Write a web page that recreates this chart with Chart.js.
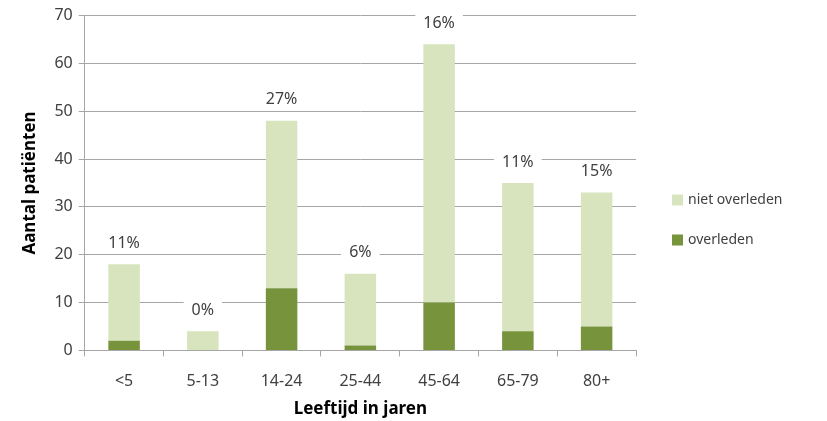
<!DOCTYPE html>
<html>
<head>
    <title>Aantal patiënten per leeftijd</title>
    <script src="https://cdn.jsdelivr.net/npm/chart.js"></script>
    <style>
        html, body { margin: 0; padding: 0; background: #fff; }
        .chart-box { width: 827px; height: 421px; }
    </style>
</head>
<body>
    <div class="chart-box">
        <canvas id="leeftijd-chart"></canvas>
    </div>

    <script>
        const categories = ['<5', '5-13', '14-24', '25-44', '45-64', '65-79', '80+'];
        const overleden = [2, 0, 13, 1, 10, 4, 5];
        const nietOverleden = [16, 4, 35, 15, 54, 31, 28];
        const yTicks = [0, 10, 20, 30, 40, 50, 60, 70];

        const FONT = '"Noto Sans", "DejaVu Sans", sans-serif';

        // percentage overleden boven elke staaf, met witte achtergrond
        const percentLabels = {
            id: 'percentLabels',
            afterDatasetsDraw(chart) {
                const ctx = chart.ctx;
                const meta = chart.getDatasetMeta(1);
                ctx.save();
                ctx.font = '16px ' + FONT;
                ctx.textAlign = 'center';
                ctx.textBaseline = 'middle';
                meta.data.forEach((bar, i) => {
                    const total = overleden[i] + nietOverleden[i];
                    const text = Math.round(overleden[i] / total * 100) + '%';
                    const y = bar.y - 21;
                    const w = ctx.measureText(text).width + 16;
                    ctx.fillStyle = '#fff';
                    ctx.fillRect(bar.x - w / 2, y - 10, w, 20);
                    ctx.fillStyle = '#404040';
                    ctx.fillText(text, bar.x, y);
                });
                ctx.restore();
            }
        };

        // legenda rechts, niet overleden bovenaan
        const sideLegend = {
            id: 'sideLegend',
            afterDraw(chart) {
                const ctx = chart.ctx;
                const x = chart.chartArea.right + 36;
                const sets = chart.data.datasets.slice().reverse();
                ctx.save();
                ctx.font = '14px ' + FONT;
                ctx.textAlign = 'left';
                ctx.textBaseline = 'middle';
                sets.forEach((ds, i) => {
                    const y = 200 + i * 40;
                    ctx.fillStyle = ds.backgroundColor;
                    ctx.fillRect(x, y - 5.5, 11, 11);
                    ctx.fillStyle = '#404040';
                    ctx.fillText(ds.label, x + 16, y);
                });
                ctx.restore();
            }
        };

        const ctx = document.getElementById('leeftijd-chart').getContext('2d');
        new Chart(ctx, {
            type: 'bar',
            data: {
                labels: categories,
                datasets: [
                    {
                        label: 'overleden',
                        data: overleden,
                        backgroundColor: '#77933c',
                        barPercentage: 0.4,
                        categoryPercentage: 1
                    },
                    {
                        label: 'niet overleden',
                        data: nietOverleden,
                        backgroundColor: '#d7e4bd',
                        barPercentage: 0.4,
                        categoryPercentage: 1
                    }
                ]
            },
            options: {
                responsive: true,
                maintainAspectRatio: false,
                animation: false,
                layout: { padding: { top: 11, left: 20, right: 191, bottom: 2 } },
                plugins: {
                    legend: { display: false },
                    tooltip: { enabled: false }
                },
                scales: {
                    x: {
                        stacked: true,
                        grid: {
                            drawOnChartArea: false,
                            drawTicks: true,
                            tickLength: 6,
                            color: '#a6a6a6'
                        },
                        border: { color: '#a6a6a6' },
                        ticks: {
                            color: '#404040',
                            padding: 15,
                            font: { family: FONT, size: 16 }
                        },
                        title: {
                            display: true,
                            text: 'Leeftijd in jaren',
                            color: '#000',
                            font: { family: FONT, size: 17, weight: 'bold' },
                            padding: { top: -7, bottom: 0 }
                        }
                    },
                    y: {
                        stacked: true,
                        min: 0,
                        max: 70,
                        afterBuildTicks: axis => { axis.ticks = yTicks.map(v => ({ value: v })); },
                        grid: {
                            color: '#a6a6a6',
                            tickLength: 6
                        },
                        border: { color: '#a6a6a6' },
                        ticks: {
                            color: '#404040',
                            padding: 6,
                            font: { family: FONT, size: 16 }
                        },
                        title: {
                            display: true,
                            text: 'Aantal patiënten',
                            color: '#000',
                            font: { family: FONT, size: 17, weight: 'bold' },
                            padding: { top: 0, bottom: 8 }
                        }
                    }
                }
            },
            plugins: [percentLabels, sideLegend]
        });
    </script>
</body>
</html>
